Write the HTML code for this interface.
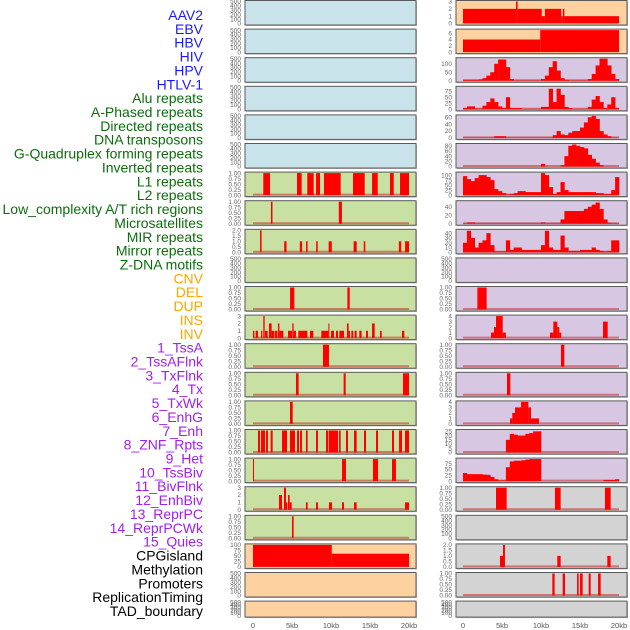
<!DOCTYPE html>
<html><head><meta charset="utf-8"><style>
html,body{margin:0;padding:0;background:#fff;width:630px;height:630px;overflow:hidden}
svg{display:block;font-family:"Liberation Sans",sans-serif}
</style></head><body>
<svg id="chart" width="630" height="630" viewBox="0 0 630 630" xmlns="http://www.w3.org/2000/svg"></svg>
<script>
// ---- labels ----
const trackLabels = ["AAV2","EBV","HBV","HIV","HPV","HTLV-1","Alu repeats","A-Phased repeats","Directed repeats","DNA transposons","G-Quadruplex forming repeats","Inverted repeats","L1 repeats","L2 repeats","Low_complexity A/T rich regions","Microsatellites","MIR repeats","Mirror repeats","Z-DNA motifs","CNV","DEL","DUP","INS","INV","1_TssA","2_TssAFlnk","3_TxFlnk","4_Tx","5_TxWk","6_EnhG","7_Enh","8_ZNF_Rpts","9_Het","10_TssBiv","11_BivFlnk","12_EnhBiv","13_ReprPC","14_ReprPCWk","15_Quies","CPGisland","Methylation","Promoters","ReplicationTiming","TAD_boundary"];
const labelGroups = ["virus","virus","virus","virus","virus","virus","rep","rep","rep","rep","rep","rep","rep","rep","rep","rep","rep","rep","rep","sv","sv","sv","sv","sv","chrom","chrom","chrom","chrom","chrom","chrom","chrom","chrom","chrom","chrom","chrom","chrom","chrom","chrom","chrom","other","other","other","other","other"];
const xTickKb = [0,5,10,15,20];
const xTickLabels = ["0","5kb","10kb","15kb","20kb"];

// ---- tick label sets ----
const ticks500 = [0,100,200,300,400,500];
const ticks500Lab = ["0","100","200","300","400","500"];
const ticks1 = [0,0.25,0.5,0.75,1];
const ticks1Lab = ["0.00","0.25","0.50","0.75","1.00"];
const ticks2 = [0,0.5,1,1.5,2];
const ticks2Lab = ["0.0","0.5","1.0","1.5","2.0"];
const ticks3 = [0,1,2,3];
const ticks4 = [0,1,2,3,4];

// ---- left column segment data [startKb, endKb, value] ----
const leftL1Segs = [[1.32,2.18,1],[5.64,6.24,1],[6.96,7.78,1],[8.08,8.59,1],[9.1,11.24,1],[12.82,14.32,1],[15.26,15.99,1],[17.56,18.04,1],[18.85,20.0,1]];
const leftLowSegs = [[2.3,2.5,1],[11.0,11.4,1]];
const leftMirSegs = [[0.9,1.1,2],[4.0,4.3,1],[6.0,6.3,1],[6.8,7.0,1],[8.1,8.3,1],[9.7,10.1,1],[12.9,13.3,1],[14.2,14.4,1],[18.7,19.0,1],[19.5,20.0,1]];
const leftDelSegs = [[4.75,5.3,1],[12.1,12.4,1]];
const leftInsSegs = [[0,0.17,1],[0.34,0.64,1],[1.03,1.2,1],[1.32,1.5,3],[1.54,1.88,1],[2.05,2.39,2],[2.39,2.74,1],[2.82,3.12,1],[3.2,3.38,2],[3.38,3.89,1],[4.49,5.0,1],[5.04,5.21,2],[5.21,5.51,1],[5.81,6.97,1],[7.31,7.74,1],[8.76,9.66,1],[9.66,9.79,2],[10.0,10.38,1],[10.64,10.9,1],[11.07,11.67,1],[12.05,12.26,2],[12.26,12.44,1],[12.61,12.86,1],[13.03,13.29,1],[13.63,13.93,1],[14.49,14.74,1],[15.26,15.6,2],[16.28,16.5,1],[19.1,19.4,1]];
const leftTssASegs = [[8.97,9.74,1]];
const leftTxFlnkSegs = [[5.51,5.85,1],[11.62,11.88,1],[19.23,20.0,1]];
const leftTxSegs = [[4.74,5.09,1]];
const leftEnhSegs = [[0.64,0.9,1],[1.03,1.54,1],[1.67,1.92,1],[2.26,2.52,1],[3.72,4.36,1],[4.74,5.38,1],[5.64,5.9,1],[6.03,6.28,1],[6.79,7.01,1],[8.08,8.33,1],[9.36,9.62,1],[9.7,10.9,1],[11.03,11.24,1],[11.92,12.18,1],[12.95,13.29,1],[14.23,14.49,1],[15.77,16.03,1],[17.82,18.08,1],[18.72,19.1,1],[19.49,20.0,1]];
const leftHetSegs = [[0,0.13,1],[11.41,11.92,1],[15.38,16.03,1],[17.82,18.33,1]];
const leftBivSegs = [[3.33,3.72,2],[3.97,4.23,3],[4.23,4.4,1],[4.49,4.7,2],[4.7,4.96,1],[6.79,7.01,1],[8.08,8.33,1],[9.74,10.13,1],[11.41,11.67,1],[12.95,13.29,1],[19.49,20.0,1]];
const leftReprSegs = [[5.0,5.21,1]];
const leftCpgSegs = [[0,10.1,100],[10.1,20.0,60]];

// ---- right column binned profiles (500 bp bins, 0-20 kb) ----
const rightHivBins = [5,5,5,5,8,15,30,50,100,125,125,80,10,2,2,2,2,2,2,2,10,30,80,115,60,15,5,2,2,2,2,2,10,40,90,130,130,90,40,10];
const rightHpvBins = [5,12,12,3,3,15,30,45,30,12,5,50,5,5,5,2,2,2,2,2,10,10,85,30,85,60,10,5,2,2,2,2,10,40,55,30,5,20,50,5];
const rightAluBins = [1,1,1,1,1,1,1,1,5,5,5,1,1,1,1,1,1,1,1,1,1,1,1,8,20,10,8,15,20,20,30,45,60,64,55,20,10,5,1,1];
const rightPhasedBins = [0,0,0,0,0,0,0,0,0,0,0,0,0,0,0,0,0,0,0,0,10,0,0,0,0,5,40,80,85,80,75,70,45,30,15,5,0,0,0,0];
const rightDirBins = [95,80,70,85,100,100,90,75,30,20,10,3,5,10,20,20,15,15,15,15,110,100,40,5,15,65,25,15,15,15,15,15,15,15,10,10,5,5,25,90];
const rightDnaBins = [1,3,3,1,1,1,1,1,1,1,1,1,1,1,1,1,1,1,1,1,3,1,1,1,1,10,30,30,30,30,30,35,40,45,50,35,10,2,1,1];
const rightGquadBins = [20,45,30,10,20,25,40,15,2,2,2,25,5,10,10,5,5,5,5,5,15,45,10,5,5,35,10,3,3,3,5,5,5,10,5,3,2,3,25,25];
const rightEnhBins = [0,0,0,0,0,0,0,0,0,0,0,15,22,21,20,20,22,23,25,25,0,0,0,0,0,0,0,0,0,0,0,0,0,0,0,0,0,0,0,0];
const rightZnfBins = [35,30,30,30,30,28,27,18,8,3,3,60,85,88,88,90,93,95,95,95,0,0,0,0,0,0,0,0,0,0,0,0,0,0,0,0,5,5,5,8];

// ---- right column segment data ----
const rightAavSegs = [[0,6.8,2],[6.8,7.0,3],[7.0,10.1,2],[10.1,10.5,1],[10.5,12.6,2],[12.6,12.8,1],[12.8,13.0,2],[13.0,20.0,1]];
const rightEbvSegs = [[0,9.9,4],[9.9,20.0,7]];
const rightCnvSegs = [[1.84,3.03,1]];
const rightDelSegs = [[3.59,3.97,1],[3.97,4.23,2],[4.23,5.09,4],[5.09,5.5,1],[11.15,11.58,1],[11.58,12.09,3],[12.09,12.35,2],[12.35,12.6,1],[17.95,18.55,3]];
const rightDupSegs = [[12.56,12.99,1]];
const rightInsSegs = [[5.64,6.07,1]];
const rightInvSegs = [[6.03,6.32,1],[6.32,6.67,2],[6.67,7.44,3],[7.44,8.38,4],[8.38,8.72,3],[8.72,9.74,1]];
const rightTssSegs = [[4.23,5.6,1],[11.79,12.52,1],[18.2,18.93,1]];
const rightCpgSegs = [[4.74,5.26,1],[5.13,5.38,2],[12.09,12.52,1],[18.5,18.93,1]];
const rightMethSegs = [[11.45,11.75,1],[12.78,13.08,1],[14.62,14.83,1],[15.0,15.34,1],[16.11,16.37,1],[17.31,17.65,1]];

// ---- rendering ----
const NS = "http://www.w3.org/2000/svg";
const svg = document.getElementById("chart");
function mk(tag, attrs, parent){ const e=document.createElementNS(NS,tag); for(const k in attrs) e.setAttribute(k,attrs[k]); (parent||svg).appendChild(e); return e; }
const COLS = {L:{x0:245,x1:416,d0:253,d1:409}, R:{x0:456,x1:627,d0:463,d1:619}};
const BG = {blue:"#c9e3ea", green:"#c8e1a3", peach:"#fed2a0", lav:"#d7c7e2", grey:"#d3d3d3"};
function rowTop(r){ return 0.5 + r*28.6; }
function rowH(r){ return r===21 ? 16 : 24.5; }
function xScale(col, kb){ return col.d0 + kb/20*(col.d1-col.d0); }
function yScale(r, v, dmax){ const t=rowTop(r), b=t+rowH(r); const y0=b-1.5, y1=t+1; return y0 - v/dmax*(y0-y1); }

const panels = [
 {c:"L",r:0,bg:"blue",t:ticks500,tl:ticks500Lab,d:500,name:"left-aav2"},
 {c:"L",r:1,bg:"blue",t:ticks500,tl:ticks500Lab,d:500,name:"left-ebv"},
 {c:"L",r:2,bg:"blue",t:ticks500,tl:ticks500Lab,d:500,name:"left-hiv"},
 {c:"L",r:3,bg:"blue",t:ticks500,tl:ticks500Lab,d:500,name:"left-hpv"},
 {c:"L",r:4,bg:"blue",t:ticks500,tl:ticks500Lab,d:500,name:"left-htlv"},
 {c:"L",r:5,bg:"blue",t:ticks500,tl:ticks500Lab,d:500,name:"left-alu"},
 {c:"L",r:6,bg:"green",t:ticks1,tl:ticks1Lab,d:1,segs:leftL1Segs,name:"left-l1"},
 {c:"L",r:7,bg:"green",t:ticks1,tl:ticks1Lab,d:1,segs:leftLowSegs,name:"left-low-complexity"},
 {c:"L",r:8,bg:"green",t:ticks2,tl:ticks2Lab,d:2,segs:leftMirSegs,name:"left-mir"},
 {c:"L",r:9,bg:"green",t:ticks500,tl:ticks500Lab,d:500,name:"left-zdna"},
 {c:"L",r:10,bg:"green",t:ticks1,tl:ticks1Lab,d:1,segs:leftDelSegs,name:"left-del"},
 {c:"L",r:11,bg:"green",t:ticks3,tl:ticks3.map(String),d:3,segs:leftInsSegs,name:"left-ins"},
 {c:"L",r:12,bg:"green",t:ticks1,tl:ticks1Lab,d:1,segs:leftTssASegs,name:"left-tssa"},
 {c:"L",r:13,bg:"green",t:ticks1,tl:ticks1Lab,d:1,segs:leftTxFlnkSegs,name:"left-txflnk"},
 {c:"L",r:14,bg:"green",t:ticks1,tl:ticks1Lab,d:1,segs:leftTxSegs,name:"left-tx"},
 {c:"L",r:15,bg:"green",t:ticks1,tl:ticks1Lab,d:1,segs:leftEnhSegs,name:"left-enh"},
 {c:"L",r:16,bg:"green",t:ticks1,tl:ticks1Lab,d:1,segs:leftHetSegs,name:"left-het"},
 {c:"L",r:17,bg:"green",t:ticks3,tl:ticks3.map(String),d:3,segs:leftBivSegs,name:"left-bivflnk"},
 {c:"L",r:18,bg:"green",t:ticks1,tl:ticks1Lab,d:1,segs:leftReprSegs,name:"left-reprpc"},
 {c:"L",r:19,bg:"peach",t:[0,25,50,75,100],tl:["0","25","50","75","100"],d:100,segs:leftCpgSegs,nobase:true,name:"left-cpg"},
 {c:"L",r:20,bg:"peach",t:ticks500,tl:ticks500Lab,d:500,name:"left-promoters"},
 {c:"L",r:21,bg:"peach",t:ticks500,tl:ticks500Lab,d:500,name:"left-tad"},
 {c:"R",r:0,bg:"peach",t:ticks3,tl:ticks3.map(String),d:3,segs:rightAavSegs,nobase:true,name:"right-aav2"},
 {c:"R",r:1,bg:"peach",t:[0,2,4,6],tl:["0","2","4","6"],d:7,segs:rightEbvSegs,nobase:true,name:"right-ebv"},
 {c:"R",r:2,bg:"lav",t:[0,50,100],tl:["0","50","100"],d:130,bins:rightHivBins,name:"right-hiv"},
 {c:"R",r:3,bg:"lav",t:[0,25,50,75],tl:["0","25","50","75"],d:91,bins:rightHpvBins,name:"right-hpv"},
 {c:"R",r:4,bg:"lav",t:[0,20,40,60],tl:["0","20","40","60"],d:64,bins:rightAluBins,name:"right-alu"},
 {c:"R",r:5,bg:"lav",t:[0,20,40,60,80],tl:["0","20","40","60","80"],d:85,bins:rightPhasedBins,name:"right-aphased"},
 {c:"R",r:6,bg:"lav",t:[0,25,50,75,100],tl:["0","25","50","75","100"],d:110,bins:rightDirBins,name:"right-directed"},
 {c:"R",r:7,bg:"lav",t:[0,20,40],tl:["0","20","40"],d:52,bins:rightDnaBins,name:"right-dna"},
 {c:"R",r:8,bg:"lav",t:[0,10,20,30,40],tl:["0","10","20","30","40"],d:46,bins:rightGquadBins,name:"right-gquad"},
 {c:"R",r:9,bg:"lav",t:ticks500,tl:ticks500Lab,d:500,name:"right-zdna"},
 {c:"R",r:10,bg:"lav",t:ticks1,tl:ticks1Lab,d:1,segs:rightCnvSegs,name:"right-cnv"},
 {c:"R",r:11,bg:"lav",t:ticks4,tl:ticks4.map(String),d:4,segs:rightDelSegs,name:"right-del"},
 {c:"R",r:12,bg:"lav",t:ticks1,tl:ticks1Lab,d:1,segs:rightDupSegs,name:"right-dup"},
 {c:"R",r:13,bg:"lav",t:ticks1,tl:ticks1Lab,d:1,segs:rightInsSegs,name:"right-ins"},
 {c:"R",r:14,bg:"lav",t:ticks4,tl:ticks4.map(String),d:4,segs:rightInvSegs,name:"right-inv"},
 {c:"R",r:15,bg:"lav",t:[0,5,10,15,20,25],tl:["0","5","10","15","20","25"],d:26,bins:rightEnhBins,name:"right-enh"},
 {c:"R",r:16,bg:"lav",t:[0,25,50,75],tl:["0","25","50","75"],d:95,bins:rightZnfBins,name:"right-znf"},
 {c:"R",r:17,bg:"grey",t:ticks1,tl:ticks1Lab,d:1,segs:rightTssSegs,name:"right-tssbiv"},
 {c:"R",r:18,bg:"grey",t:ticks500,tl:ticks500Lab,d:500,name:"right-reprpc"},
 {c:"R",r:19,bg:"grey",t:ticks2,tl:ticks2Lab,d:2,segs:rightCpgSegs,name:"right-cpg"},
 {c:"R",r:20,bg:"grey",t:ticks1,tl:ticks1Lab,d:1,segs:rightMethSegs,name:"right-methylation"},
 {c:"R",r:21,bg:"grey",t:ticks500,tl:ticks500Lab,d:500,name:"right-tad"}
];

panels.forEach(p=>{
  const col = COLS[p.c];
  const t = rowTop(p.r), h = rowH(p.r);
  const g = mk("g",{});
  
  
  mk("rect",{x:col.x0+1,y:t+1,width:col.x1-col.x0,height:h,fill:"#bbb"},g);
  mk("rect",{x:col.x0,y:t,width:col.x1-col.x0,height:h,fill:BG[p.bg],stroke:"#5a5a5a","stroke-width":1},g);
  // y ticks
  p.t.forEach((v,i)=>{
    const tx = mk("text",{x:col.x0-4,y:yScale(p.r,v,p.d)+2.2,"text-anchor":"end","font-size":"6.5",fill:"#666"},g);
    tx.textContent = p.tl[i];
    
    
  });
  const hasData = p.segs || p.bins;
  if(hasData && !p.nobase){
    const bl = mk("line",{x1:xScale(col,0),x2:xScale(col,20),y1:yScale(p.r,0,p.d)-0.5,y2:yScale(p.r,0,p.d)-0.5,stroke:"rgba(200,40,40,0.55)","stroke-width":2},g);
    
    
  }
  const y0 = yScale(p.r,0,p.d);
  if(p.segs){
    p.segs.forEach(s=>{
      const xa = xScale(col,s[0]), xb = xScale(col,s[1]);
      const yv = yScale(p.r,s[2],p.d);
      const rc = mk("rect",{x:xa,y:yv,width:Math.max(1,xb-xa),height:Math.max(0,y0-yv),fill:"#ff0000"},g);
      
      
    });
  }
  if(p.bins){
    p.bins.forEach((v,i)=>{
      const xa = xScale(col,i*0.5), xb = xScale(col,(i+1)*0.5);
      const yv = yScale(p.r,v,p.d);
      const rc = mk("rect",{x:xa,y:yv,width:xb-xa+0.3,height:Math.max(0,y0-yv),fill:"#ff0000"},g);
      
      
    });
  }
});

// x axis labels
["L","R"].forEach(c=>{
  const col = COLS[c];
  xTickKb.forEach((kb,i)=>{
    const tx = mk("text",{x:xScale(col,kb),y:628,"text-anchor":"middle","font-size":"7.5",fill:"#555"});
    tx.textContent = xTickLabels[i];
    
    
  });
});

// track labels
const GROUP_COLORS = {virus:"#1a1aff", rep:"#0b6e0b", sv:"#ffa500", chrom:"#a020f0", other:"#000000"};
trackLabels.forEach((lab,i)=>{
  const tx = mk("text",{x:203,y:15+i*13.86+5,"text-anchor":"end","font-size":"14",fill:GROUP_COLORS[labelGroups[i]]});
  tx.textContent = lab;
  
  
});
</script>
</body></html>
